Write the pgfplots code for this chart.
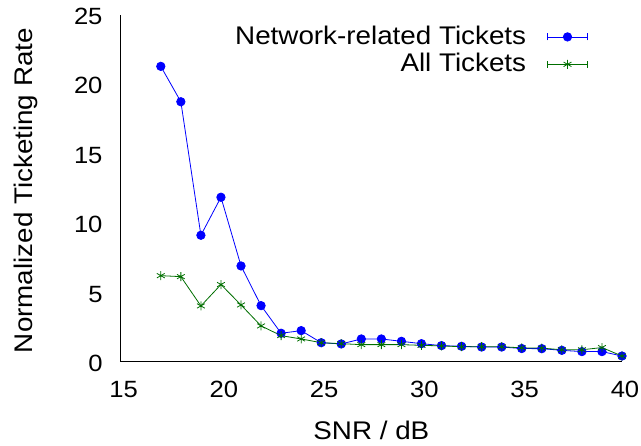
\documentclass[border=0pt]{standalone}
\usepackage{pgfplots}
\pgfplotsset{compat=1.18}
\usepackage{fontspec}
\setmainfont{Liberation Sans}[FakeStretch=1.09]

\definecolor{netblue}{RGB}{0,0,255}
\definecolor{allgreen}{RGB}{0,110,0}

% gnuplot-like legend sample: line with error-bar caps, mark in the middle
\pgfplotsset{
  errlegend/.style={
    legend image code/.code={
      \draw[##1, mark=none] (0pt,-2pt) -- (40pt,-2pt);
      \draw[##1, mark=none] (0pt,-5.5pt) -- (0pt,1.5pt) (40pt,-5.5pt) -- (40pt,1.5pt);
      \path[##1, draw=none] plot coordinates {(20pt,-2pt)};
    }
  }
}

\begin{document}
\begin{tikzpicture}
\useasboundingbox (-120.7pt,-84pt) rectangle (520.3pt,362pt);
\begin{axis}[
    scale only axis,
    width=501.3pt, height=347pt,
    xmin=15, xmax=40,
    ymin=0, ymax=25,
    xtick={15,20,...,40},
    ytick={0,5,...,25},
    axis x line*=bottom,
    axis y line*=left,
    axis line style={-, line width=1pt},
    tick style={draw=none},
    font=\fontsize{25.5}{30}\selectfont,
    ticklabel style={font=\fontsize{23.5}{28}\selectfont},
    /pgf/number format/assume math mode=true,
    xticklabel style={anchor=base, inner sep=0pt, yshift=-35.3pt, xshift=3pt},
    yticklabel style={anchor=east, inner sep=0pt, xshift=-18pt, yshift=-1.5pt},
    xlabel={SNR / dB},
    ylabel={Normalized Ticketing Rate},
    xlabel style={at={(axis description cs:0.5,-0.2248)}, anchor=base, inner sep=0pt},
    ylabel style={at={(axis description cs:-0.175,0.494)}, anchor=base, inner sep=0pt},
    legend style={draw=none, fill=none, inner sep=0pt, outer sep=0pt,
        at={(rel axis cs:0.932,0.970)}, anchor=north east,
        nodes={inner sep=0pt, text height=19pt, text depth=0pt},
        column sep=21pt, row sep=8.4pt},
    legend cell align=right,
    legend plot pos=right,
]
\addplot[netblue, line width=0.8pt, mark=*, mark size=4.2pt, errlegend] coordinates {
(17,21.3)(18,18.75)(19,9.13)(20,11.87)(21,6.92)(22,4.06)(23,2.07)(24,2.26)
(25,1.39)(26,1.30)(27,1.66)(28,1.66)(29,1.49)(30,1.32)(31,1.18)(32,1.13)
(33,1.08)(34,1.08)(35,0.97)(36,0.96)(37,0.84)(38,0.75)(39,0.75)(40,0.43)
};
\addlegendentry{Network-related Tickets}
\addplot[allgreen, line width=0.8pt, mark=asterisk, mark size=4.5pt, errlegend] coordinates {
(17,6.22)(18,6.15)(19,4.04)(20,5.58)(21,4.11)(22,2.60)(23,1.90)(24,1.66)
(25,1.39)(26,1.32)(27,1.25)(28,1.25)(29,1.25)(30,1.20)(31,1.16)(32,1.10)
(33,1.10)(34,1.10)(35,1.02)(36,1.00)(37,0.88)(38,0.88)(39,1.04)(40,0.43)
};
\addlegendentry{All Tickets}
\end{axis}
\end{tikzpicture}
\end{document}
